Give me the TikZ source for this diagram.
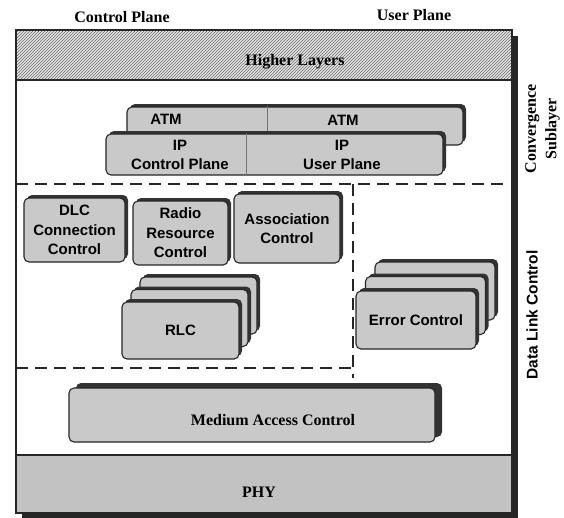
\documentclass[tikz,border=0pt]{standalone}
\usepackage{fontspec}
\setmainfont{Liberation Serif}
\setsansfont{Liberation Sans}
\usetikzlibrary{patterns,shadows}
\definecolor{boxgray}{gray}{0.79}
\definecolor{phygray}{gray}{0.76}
\definecolor{edge}{gray}{0.15}
\tikzset{
  serifb/.style={font=\rmfamily\bfseries\fontsize{16}{20.5}\selectfont, align=center, inner sep=0pt},
  sansb/.style={font=\sffamily\bfseries\fontsize{15}{19.5}\selectfont, align=center, inner sep=0pt},
  box/.style={draw=edge, line width=1.1pt, rounded corners=5pt, fill=boxgray, inner sep=0pt, sansb},
  shad/.style={drop shadow={shadow xshift=3pt, shadow yshift=3pt, opacity=1, fill=black!80}},
  bigshad/.style={drop shadow={shadow xshift=7pt, shadow yshift=5pt, opacity=1, fill=black!80}},
  band/.style={draw=edge, line width=1.1pt, inner sep=0pt},
  dashline/.style={draw=black!85, line width=2.4pt, dash pattern=on 12pt off 7pt},
  vdashline/.style={draw=black!85, line width=1.4pt, dash pattern=on 12pt off 7pt},
  divider/.style={draw=black!55, line width=0.8pt},
}
\begin{document}
\begin{tikzpicture}[x=1pt,y=-1pt]
\useasboundingbox (0,0) rectangle (564,517);
% frame with shadow
\fill[black!85] (22,36) rectangle (518,518);
\node[draw=edge, line width=1.4pt, fill=white, minimum width=496, minimum height=483, inner sep=0pt] (frame) at (264,271.5) {};
% top labels
\node[serifb] (cplane) at (122,17) {Control Plane};
\node[serifb] (uplane) at (414,15) {User Plane};
% higher layers band
\node[band, minimum width=496, minimum height=50, preaction={fill=black!12}, pattern=north east lines, pattern color=black!55] (higher) at (264,55) {};
\node[serifb] (higherlbl) at (295,62) {Higher Layers};
% ATM box
\node[box, shad, minimum width=336, minimum height=38] (atm) at (295,126) {};
\coordinate (atmdiv) at (267,0);
\draw[divider] (atm.north -| atmdiv) -- (atm.south -| atmdiv);
\node[sansb] (atmL) at (166,119) {ATM};
\node[sansb] (atmR) at (343,120) {ATM};
% IP box
\node[box, shad, minimum width=337, minimum height=41] (ip) at (274.5,154.5) {};
\coordinate (ipdiv) at (246,0);
\draw[divider] (ip.north -| ipdiv) -- (ip.south -| ipdiv);
\node[sansb] (ipC) at (180,155) {IP\\Control Plane};
\node[sansb] (ipU) at (342,155) {IP\\User Plane};
% dashed separators
\coordinate (dh1) at (16,184);
\coordinate (dh2) at (507,184);
\coordinate (dv1) at (353,184);
\coordinate (dv2) at (353,378);
\coordinate (db1) at (16,368);
\coordinate (db2) at (353,368);
\draw[dashline] (dh1) -- (dh2);
\draw[vdashline] (dv1) -- (dv2);
\draw[dashline] (db1) -- (db2);
% control boxes
\node[box, shad, minimum width=101, minimum height=64] (dlc) at (74.5,230) {DLC\\Connection\\Control};
\node[box, shad, minimum width=95, minimum height=64] (rrc) at (180.5,233) {Radio\\Resource\\Control};
\node[box, shad, minimum width=106, minimum height=69] (assoc) at (287,228.5) {Association\\Control};
% RLC stack
\node[box, shad, minimum width=117, minimum height=57] (rlc3) at (198.5,305.5) {};
\node[box, shad, minimum width=117, minimum height=57] (rlc2) at (189.5,318) {};
\node[box, shad, minimum width=117, minimum height=57] (rlc) at (180.5,330.5) {RLC};
% Error control stack
\node[box, shad, minimum width=120, minimum height=58] (err3) at (435,291) {};
\node[box, shad, minimum width=120, minimum height=58] (err2) at (425.5,305.5) {};
\node[box, shad, minimum width=120, minimum height=58] (err) at (416,320) {Error Control};
% MAC
\node[box, bigshad, minimum width=366, minimum height=54] (mac) at (252,415) {};
\node[serifb] (maclbl) at (273,420) {Medium Access Control};
% PHY
\node[band, fill=phygray, minimum width=496, minimum height=58] (phy) at (264,484) {};
\node[serifb] (phylbl) at (259,492) {PHY};
% frame border on top
\draw[draw=edge, line width=1.4pt] (frame.south west) rectangle (frame.north east);
% side labels
\node[serifb, rotate=90] (conv) at (542.5,129) {Convergence\\Sublayer};
\node[sansb, rotate=90, font=\sffamily\bfseries\fontsize{15.5}{19}\selectfont] (dlclbl) at (532,315) {Data Link Control};
\end{tikzpicture}
\end{document}
